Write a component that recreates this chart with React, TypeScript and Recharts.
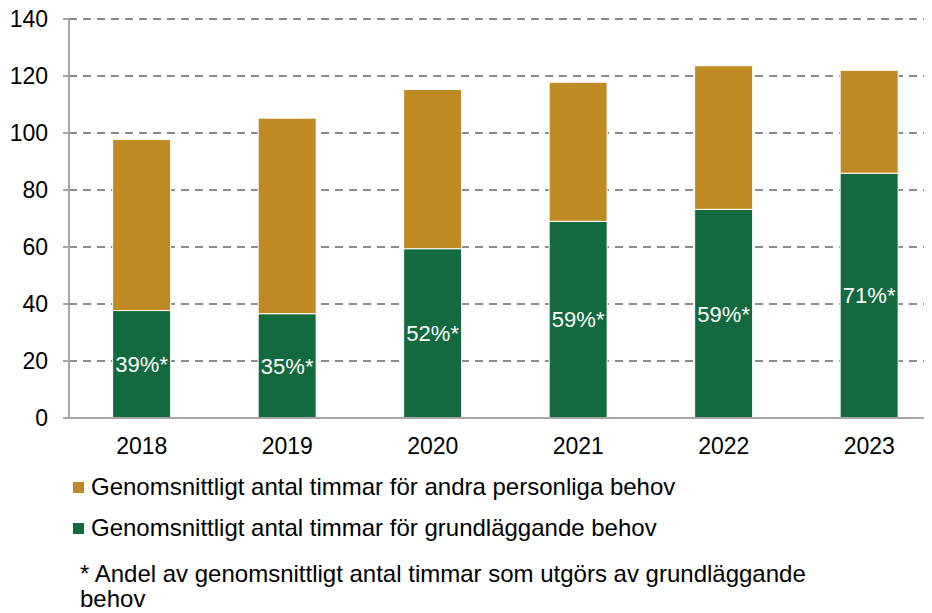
import React from 'react';
import { BarChart, Bar, XAxis, YAxis, CartesianGrid, LabelList } from 'recharts';

const years = ['2018', '2019', '2020', '2021', '2022', '2023'];
const basicHours = [37.7, 36.6, 59.4, 69.0, 73.2, 85.9];
const otherHours = [60.0, 68.6, 55.9, 48.8, 50.4, 36.1];
const shareLabels = ['39%*', '35%*', '52%*', '59%*', '59%*', '71%*'];
const yTicks = [0, 20, 40, 60, 80, 100, 120, 140];

const seriesNames = {
  other: 'Genomsnittligt antal timmar för andra personliga behov',
  basic: 'Genomsnittligt antal timmar för grundläggande behov',
};
const footnote = ['* Andel av genomsnittligt antal timmar som utgörs av grundläggande', 'behov'];

const GOLD = '#BF8923';
const GREEN = '#136A3F';
const FONT = '"Liberation Sans", Arial, sans-serif';

const data = years.map((y, i) => ({
  year: y,
  basic: basicHours[i],
  other: otherHours[i],
  share: shareLabels[i],
}));

export default function App() {
  return (
    <div style={{ width: 924, height: 613, marginTop: -8, overflow: 'hidden', position: 'relative', fontFamily: FONT, background: '#fff' }}>
      <BarChart
        width={934}
        height={468}
        data={data}
        margin={{ top: 19, right: 0, left: 1, bottom: 0 }}
        barCategoryGap="30%"
      >
        <CartesianGrid vertical={false} stroke="#8C8C8C" strokeDasharray="8 6" strokeWidth={2} />
        <XAxis
          dataKey="year"
          tickLine={false}
          axisLine={{ stroke: '#A6A6A6', strokeWidth: 2 }}
          tick={{ fill: '#000', fontSize: 23, fontFamily: FONT }}
          tickMargin={14}
          height={50}
        />
        <YAxis
          domain={[0, 140]}
          ticks={yTicks}
          width={60}
          tickSize={6}
          tickMargin={15}
          axisLine={{ stroke: '#A6A6A6', strokeWidth: 2 }}
          tickLine={{ stroke: '#A6A6A6', strokeWidth: 2 }}
          tick={{ fill: '#000', fontSize: 23, fontFamily: FONT }}
          interval={0}
        />
        <Bar dataKey="basic" stackId="a" fill={GREEN} stroke="#fff" strokeWidth={1} isAnimationActive={false}>
          <LabelList dataKey="share" position="center" fill="#fff" fontSize={22} fontFamily={FONT} />
        </Bar>
        <Bar dataKey="other" stackId="a" fill={GOLD} stroke="#fff" strokeWidth={1} isAnimationActive={false} />
      </BarChart>
      <div style={{ position: 'absolute', left: 65, top: 475, fontSize: 24, color: '#000', lineHeight: '24px' }}>
        <div style={{ display: 'flex', alignItems: 'center', height: 24 }}>
          <span style={{ display: 'inline-block', width: 11, height: 11, background: GOLD, marginRight: 7 }} />
          <span>{seriesNames.other}</span>
        </div>
      </div>
      <div style={{ position: 'absolute', left: 65, top: 516, fontSize: 24, color: '#000', lineHeight: '24px' }}>
        <div style={{ display: 'flex', alignItems: 'center', height: 24 }}>
          <span style={{ display: 'inline-block', width: 11, height: 11, background: GREEN, marginRight: 7 }} />
          <span>{seriesNames.basic}</span>
        </div>
      </div>
      <div style={{ position: 'absolute', left: 72, top: 561, fontSize: 24, color: '#000', lineHeight: '25px' }}>
        <div>{footnote[0]}</div>
        <div>{footnote[1]}</div>
      </div>
    </div>
  );
}
